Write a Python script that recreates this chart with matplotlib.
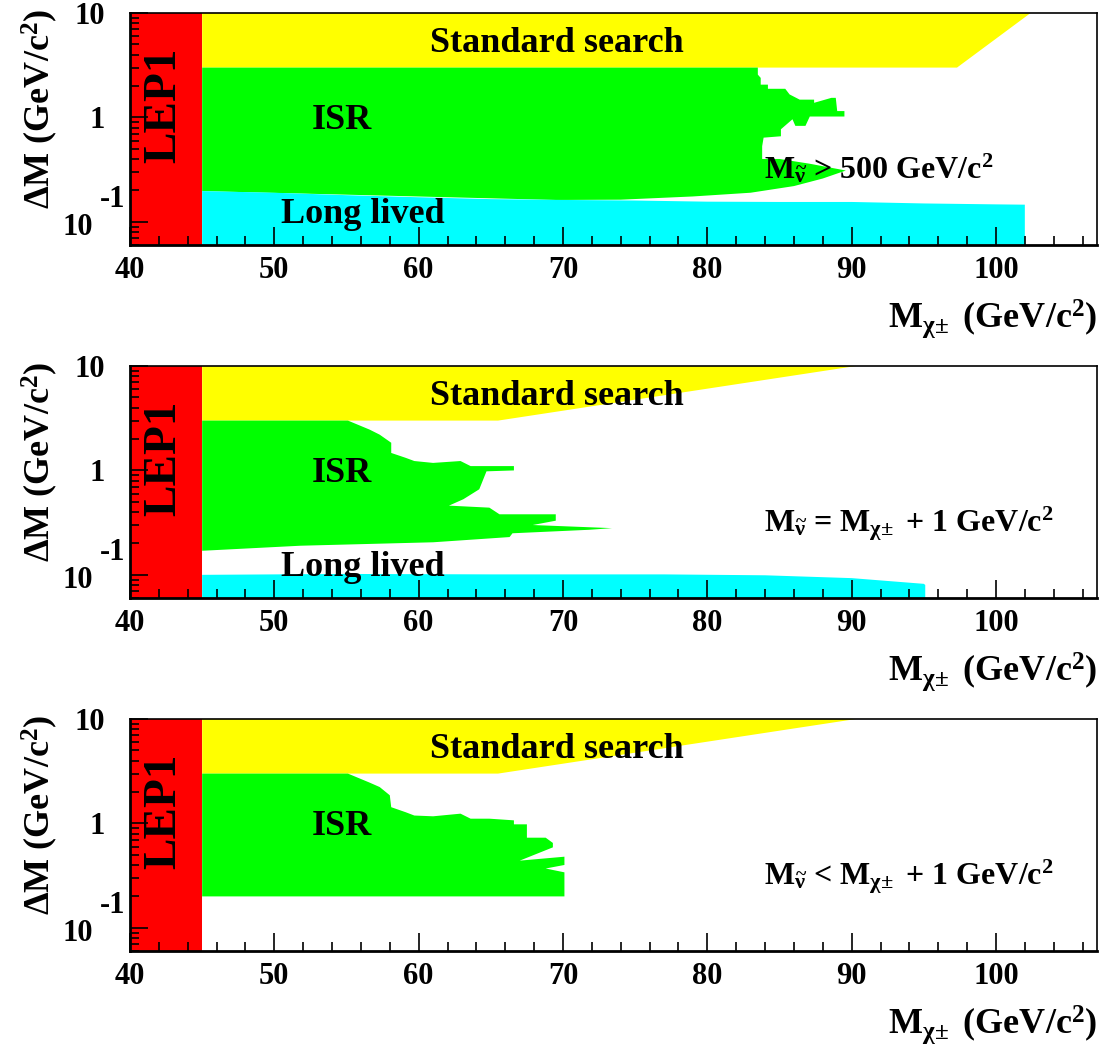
import matplotlib
matplotlib.use("Agg")
import matplotlib.pyplot as plt
from matplotlib.ticker import MultipleLocator, LogLocator, NullFormatter, FixedLocator

plt.rcParams['font.family'] = 'Liberation Serif'
plt.rcParams['font.weight'] = 'bold'
plt.rcParams['mathtext.fontset'] = 'custom'
plt.rcParams['mathtext.rm'] = 'Liberation Serif:bold'
plt.rcParams['mathtext.it'] = 'Liberation Serif:bold'
plt.rcParams['mathtext.bf'] = 'Liberation Serif:bold'
plt.rcParams['mathtext.default'] = 'rm'

# ---- data ----
lep1 = [40, 45]

# panel 1 : M_snu > 500 GeV
std1_x = [45, 45, 102.4, 97.3]
std1_y = [3.0, 10, 10, 3.0]
isr1_x = [45, 83.5, 83.5, 83.7, 83.7, 84.2, 84.2, 85.4, 85.7, 86.4, 87.4, 87.4, 88.6, 88.9,
          89.0, 89.5, 89.5, 87.1, 86.8, 86.1, 85.9, 85.1, 85.1, 83.9, 83.8, 83.8, 85.0, 87.1,
          89.6, 88.0, 86.0, 83.0, 79.0, 74.0, 69.5, 62.0, 55.0, 45]
isr1_y = [3.0, 3.0, 2.57, 2.39, 2.06, 2.06, 1.88, 1.88, 1.66, 1.48, 1.48, 1.38, 1.54, 1.54,
          1.15, 1.15, 1.02, 1.02, 0.83, 0.83, 0.96, 0.77, 0.66, 0.64, 0.53, 0.40, 0.40, 0.36,
          0.31, 0.26, 0.22, 0.19, 0.175, 0.163, 0.162, 0.172, 0.182, 0.197]
ll1_x = [45, 45, 50, 55, 60, 65, 70, 75, 80, 85, 90, 95, 100, 102, 102]
ll1_y = [0.06, 0.197, 0.19, 0.18, 0.172, 0.165, 0.162, 0.16, 0.156, 0.155, 0.155, 0.15, 0.147, 0.146, 0.06]

# panel 2 : M_snu = M_chi + 1 GeV
std2_x = [45, 45, 90.3, 65.5]
std2_y = [3.0, 10, 10, 3.0]
isr2_x = [45, 55.1, 55.1, 56.6, 57.3, 58.1, 58.1, 59.1, 59.7, 61.0, 62.9, 63.6, 66.6, 66.6,
          64.7, 64.2, 63.1, 62.1, 64.9, 65.6, 69.5, 69.5, 67.9, 73.4, 71.8, 66.5, 66.3, 61.0,
          51.8, 45]
isr2_y = [3.0, 3.0, 3.0, 2.46, 2.2, 1.84, 1.47, 1.32, 1.23, 1.18, 1.23, 1.1, 1.1, 1.0,
          0.98, 0.66, 0.53, 0.46, 0.44, 0.38, 0.38, 0.33, 0.30, 0.28, 0.27, 0.25, 0.23, 0.205,
          0.19, 0.17]
ll2_x = [45, 45, 55, 65, 77, 84, 90, 95, 95.1, 95.1]
ll2_y = [0.06, 0.10, 0.102, 0.101, 0.101, 0.099, 0.093, 0.082, 0.08, 0.06]

# panel 3 : M_snu < M_chi + 1 GeV
std3_x = [45, 45, 90.3, 65.5]
std3_y = [3.0, 10, 10, 3.0]
isr3_x = [45, 55.1, 56.6, 57.3, 58.0, 58.1, 59.1, 59.7, 61.0, 62.9, 63.6, 64.9, 66.6, 66.6,
          67.5, 67.5, 68.8, 69.3, 69.3, 67.0, 70.1, 70.1, 68.8, 70.1, 70.1, 45]
isr3_y = [3.0, 3.0, 2.46, 2.23, 1.86, 1.43, 1.28, 1.19, 1.17, 1.24, 1.11, 1.11, 1.07, 0.98,
          0.98, 0.73, 0.73, 0.65, 0.59, 0.44, 0.48, 0.40, 0.37, 0.34, 0.20, 0.20]

panel_notes = [r'M$_{\widetilde{\nu}}$ > 500 GeV/c$^{2}$',
               r'M$_{\widetilde{\nu}}$ = M$_{\chi\!\pm}$ + 1 GeV/c$^{2}$',
               r'M$_{\widetilde{\nu}}$ < M$_{\chi\!\pm}$ + 1 GeV/c$^{2}$']

W, H = 1101, 1055
fig = plt.figure(figsize=(W / 100, H / 100), dpi=100)

RED, YEL, GRN, CYA = '#ff0000', '#ffff00', '#00ff00', '#00ffff'
tops = [13, 366, 719]   # pixel top of each frame
ph = 232
left, right = 130, 1097

panels = [
    (std1_x, std1_y, isr1_x, isr1_y, ll1_x, ll1_y),
    (std2_x, std2_y, isr2_x, isr2_y, ll2_x, ll2_y),
    (std3_x, std3_y, isr3_x, isr3_y, None, None),
]

for i, (sx, sy, gx, gy, cx, cy) in enumerate(panels):
    top = tops[i]
    ax = fig.add_axes([left / W, 1 - (top + ph) / H, (right - left) / W, ph / H])
    ax.set_xlim(40, 107)
    ax.set_yscale('log')
    ax.set_ylim(0.06, 10)

    ax.axvspan(lep1[0], lep1[1], color=RED, lw=0, zorder=1)
    ax.fill(sx, sy, color=YEL, lw=0, zorder=1)
    ax.fill(gx, gy, color=GRN, lw=0, zorder=1)
    if cx is not None:
        ax.fill(cx, cy, color=CYA, lw=0, zorder=1)
        ax.text(56.1, 0.118, 'Long lived', fontsize=26, ha='center', va='center')

    ax.text(69.6, 5.1, 'Standard search', fontsize=26, ha='center', va='center')
    ax.text(54.7, 0.93, 'ISR', fontsize=26, ha='center', va='center')
    ax.text(42.4, 1.3, 'LEP1', fontsize=34, ha='center', va='center', rotation=90)
    ax.text(83.9, 0.262, panel_notes[i], fontsize=23, ha='left', va='baseline')

    # ticks, ROOT style
    ax.xaxis.set_major_locator(MultipleLocator(10))
    ax.xaxis.set_minor_locator(MultipleLocator(2))
    ax.yaxis.set_major_locator(FixedLocator([0.1, 1, 10]))
    ax.yaxis.set_minor_locator(LogLocator(base=10, subs=range(2, 10)))
    ax.yaxis.set_minor_formatter(NullFormatter())
    ax.set_yticklabels(['', '1', '10'])
    ax.tick_params(which='both', direction='in', top=False, right=False, labelsize=22, width=1.2)
    ax.tick_params(which='major', length=13)
    ax.tick_params(which='minor', length=6.5)
    ax.tick_params(axis='x', pad=8)
    ax.tick_params(axis='y', pad=18)
    for s in ['bottom', 'left']:
        ax.spines[s].set_linewidth(2)
    for s in ['top', 'right']:
        ax.spines[s].set_linewidth(1.2)

    # the 10^-1 label as ROOT draws it
    ax.annotate('10', xy=(0, 0.1), xycoords=('axes fraction', 'data'),
                xytext=(-37, -6), textcoords='offset pixels', fontsize=22,
                ha='right', va='center')
    ax.annotate('-1', xy=(0, 0.1), xycoords=('axes fraction', 'data'),
                xytext=(-5, 22), textcoords='offset pixels', fontsize=22,
                ha='right', va='center')

    # axis titles
    fig.text(right / W, 1 - (top + ph + 83) / H, r'M$_{\chi\!\pm}$ (GeV/c$^{2}$)',
             fontsize=26, ha='right', va='baseline')
    fig.text(40 / W, 1 - (top + 96) / H, r'$\Delta$M (GeV/c$^{2}$)',
             fontsize=26, ha='center', va='center', rotation=90)

fig.savefig('out.png', dpi=100)
